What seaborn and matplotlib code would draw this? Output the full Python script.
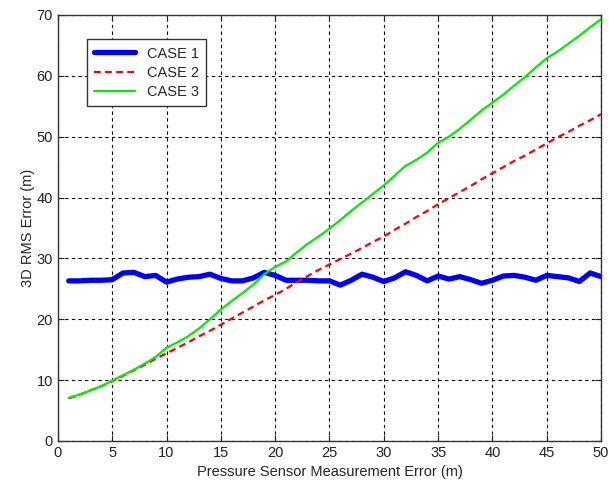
import numpy as np
import pandas as pd
import matplotlib
matplotlib.use("Agg")
import matplotlib.pyplot as plt
import seaborn as sns

x_vals = list(range(1, 51))
case1 = [26.3, 26.3, 26.4, 26.4, 26.5, 27.6, 27.7, 27.0, 27.2, 26.1,
         26.6, 26.9, 27.0, 27.4, 26.7, 26.3, 26.3, 26.8, 27.7, 27.2,
         26.4, 26.4, 26.4, 26.3, 26.3, 25.6, 26.4, 27.4, 26.9, 26.2,
         26.8, 27.8, 27.2, 26.3, 27.1, 26.6, 27.0, 26.5, 25.9, 26.4,
         27.1, 27.2, 26.9, 26.4, 27.2, 27.0, 26.8, 26.2, 27.6, 27.0]
case2 = [7.0, 7.6, 8.3, 9.0, 9.8, 10.7, 11.6, 12.5, 13.5, 14.4,
         15.3, 16.2, 17.2, 18.1, 19.1, 20.1, 21.1, 22.1, 23.1, 24.0,
         25.0, 26.1, 27.1, 28.1, 29.0, 29.9, 30.8, 31.7, 32.7, 33.6,
         34.7, 35.7, 36.8, 37.8, 38.9, 39.9, 40.9, 41.9, 43.0, 44.0,
         45.0, 46.0, 46.9, 47.9, 48.9, 49.9, 50.8, 51.8, 52.7, 53.7]
case3 = [7.1, 7.6, 8.3, 9.0, 9.9, 10.8, 11.7, 12.7, 13.8, 15.3,
         16.2, 17.2, 18.5, 20.0, 21.6, 23.0, 24.3, 25.7, 27.4, 28.6,
         29.5, 31.0, 32.4, 33.6, 34.9, 36.3, 37.8, 39.2, 40.6, 42.0,
         43.6, 45.2, 46.2, 47.4, 49.0, 50.0, 51.3, 52.8, 54.3, 55.6,
         56.9, 58.4, 59.8, 61.4, 62.9, 64.0, 65.3, 66.6, 68.0, 69.3]
series_names = ["CASE 1", "CASE 2", "CASE 3"]
x_ticks = [0, 5, 10, 15, 20, 25, 30, 35, 40, 45, 50]
y_ticks = [0, 10, 20, 30, 40, 50, 60, 70]

sns.set_style("white")
plt.rcParams['font.family'] = ['Liberation Sans', 'DejaVu Sans']

df = pd.DataFrame({
    "x": x_vals * 3,
    "y": case1 + case2 + case3,
    "series": [series_names[0]] * 50 + [series_names[1]] * 50 + [series_names[2]] * 50,
})

fig = plt.figure(figsize=(6.09, 4.91), dpi=100)
ax = fig.add_axes([0.095, 0.102, 0.892, 0.8675])

palette = {"CASE 1": "#0000ff", "CASE 2": "#ff0000", "CASE 3": "#00ee00"}
widths = {"CASE 1": 3.8, "CASE 2": 1.6, "CASE 3": 1.6}
styles = {"CASE 1": "-", "CASE 2": (0, (3, 2)), "CASE 3": "-"}

for name in series_names:
    sub = df[df["series"] == name]
    sns.lineplot(data=sub, x="x", y="y", ax=ax, color=palette[name],
                 linewidth=widths[name], label=name, zorder=3)
    ax.lines[-1].set_linestyle(styles[name])

ax.set_xlim(0, 50)
ax.set_ylim(0, 70)
ax.set_xticks(x_ticks)
ax.set_yticks(y_ticks)
ax.grid(True, color="black", linestyle=(0, (3, 3)), linewidth=0.8)
ax.tick_params(direction="in", length=4, labelsize=10.5, colors="#222222",
               top=True, right=True, bottom=True, left=True)
for s in ax.spines.values():
    s.set_color("#333333")
    s.set_linewidth(1.0)
ax.set_xlabel("Pressure Sensor Measurement Error (m)", fontsize=10.5, labelpad=4)
ax.set_ylabel("3D RMS Error (m)", fontsize=10.5, labelpad=1)

leg = ax.legend(loc="upper left", bbox_to_anchor=(0.054, 0.943), borderaxespad=0,
                frameon=True, fancybox=False, edgecolor="#333333", fontsize=10.5,
                handlelength=2.8, borderpad=0.5, labelspacing=0.35, framealpha=1)
leg.get_frame().set_linewidth(1.0)

fig.savefig("out.png", dpi=100)
